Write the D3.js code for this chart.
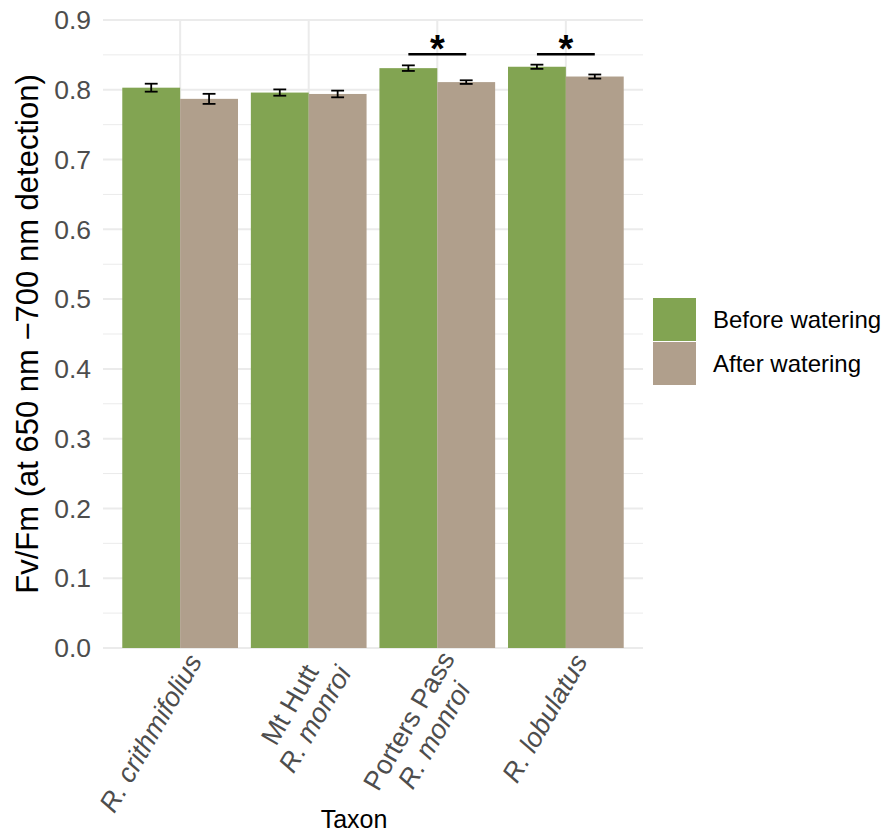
<!DOCTYPE html>
<html>
<head>
<meta charset="utf-8">
<script src="https://cdn.jsdelivr.net/npm/d3@7"></script>
<style>
  html, body { margin: 0; padding: 0; background: #ffffff; }
  svg { display: block; font-family: "Liberation Sans", Arial, Helvetica, sans-serif; }
</style>
</head>
<body>
<svg id="chart" width="885" height="834"></svg>
<script>
// Taxa, with label lines (italic flags for species names)
const taxa = ["R. crithmifolius", "Mt Hutt R. monroi", "Porters Pass R. monroi", "R. lobulatus"];
const taxonLabels = [
  [{ text: "R. crithmifolius", italic: true }],
  [{ text: "Mt Hutt", italic: false }, { text: "R. monroi", italic: true }],
  [{ text: "Porters Pass", italic: false }, { text: "R. monroi", italic: true }],
  [{ text: "R. lobulatus", italic: true }]
];

// Treatments
const treatments = ["Before watering", "After watering"];
const treatmentColors = ["#82a452", "#b09f8c"];

// Mean Fv/Fm and standard errors per taxon
const beforeMean = [0.803, 0.796, 0.831, 0.833];
const afterMean  = [0.787, 0.794, 0.811, 0.819];
const beforeSE   = [0.0057, 0.0045, 0.0040, 0.0030];
const afterSE    = [0.0072, 0.0048, 0.0026, 0.0029];

// Significance markers (bracket height in Fv/Fm units)
const sigTaxa   = ["Porters Pass R. monroi", "R. lobulatus"];
const sigLevel  = [0.851, 0.851];
const sigLabel  = ["*", "*"];

// Axis ticks
const yMajor = [0, 0.1, 0.2, 0.3, 0.4, 0.5, 0.6, 0.7, 0.8, 0.9];
const yMinor = [0.05, 0.15, 0.25, 0.35, 0.45, 0.55, 0.65, 0.75, 0.85];

const svg = d3.select("#chart");
const panel = { left: 103, right: 643, top: 20, bottom: 648 };

const x = d3.scalePoint().domain(taxa).range([panel.left, panel.right]).padding(0.6);
const step = x.step();
const xSub = d3.scaleBand().domain(treatments)
  .range([-0.45 * step, 0.45 * step]).paddingInner(0).paddingOuter(0);
const y = d3.scaleLinear().domain([0, 0.9]).range([panel.bottom, panel.top]);
const color = d3.scaleOrdinal().domain(treatments).range(treatmentColors);

// Grid
const grid = svg.append("g");
grid.selectAll("line.minor").data(yMinor).join("line")
  .attr("x1", panel.left).attr("x2", panel.right)
  .attr("y1", d => y(d)).attr("y2", d => y(d))
  .attr("stroke", "#ebebeb").attr("stroke-width", 1);
grid.selectAll("line.major").data(yMajor).join("line")
  .attr("x1", panel.left).attr("x2", panel.right)
  .attr("y1", d => y(d)).attr("y2", d => y(d))
  .attr("stroke", "#ebebeb").attr("stroke-width", 2);
grid.selectAll("line.vmajor").data(taxa).join("line")
  .attr("x1", d => x(d)).attr("x2", d => x(d))
  .attr("y1", panel.top).attr("y2", panel.bottom)
  .attr("stroke", "#ebebeb").attr("stroke-width", 2);

// Bars and error bars
const rows = [];
taxa.forEach((t, i) => {
  rows.push({ taxon: t, treatment: treatments[0], mean: beforeMean[i], se: beforeSE[i] });
  rows.push({ taxon: t, treatment: treatments[1], mean: afterMean[i], se: afterSE[i] });
});

svg.append("g").selectAll("rect").data(rows).join("rect")
  .attr("x", d => x(d.taxon) + xSub(d.treatment))
  .attr("width", xSub.bandwidth())
  .attr("y", d => y(d.mean))
  .attr("height", d => y(0) - y(d.mean))
  .attr("fill", d => color(d.treatment));

const capHalf = 0.05 * step;
const eb = svg.append("g").attr("stroke", "#000").attr("stroke-width", 1.8).attr("fill", "none");
rows.forEach(d => {
  const cx = x(d.taxon) + xSub(d.treatment) + xSub.bandwidth() / 2;
  const y0 = y(d.mean - d.se), y1 = y(d.mean + d.se);
  eb.append("line").attr("x1", cx).attr("x2", cx).attr("y1", y0).attr("y2", y1);
  eb.append("line").attr("x1", cx - capHalf).attr("x2", cx + capHalf).attr("y1", y0).attr("y2", y0);
  eb.append("line").attr("x1", cx - capHalf).attr("x2", cx + capHalf).attr("y1", y1).attr("y2", y1);
});

// Significance brackets
sigTaxa.forEach((t, i) => {
  const xa = x(t) + xSub(treatments[0]) + xSub.bandwidth() / 2;
  const xb = x(t) + xSub(treatments[1]) + xSub.bandwidth() / 2;
  svg.append("line").attr("x1", xa).attr("x2", xb)
    .attr("y1", y(sigLevel[i])).attr("y2", y(sigLevel[i]))
    .attr("stroke", "#000").attr("stroke-width", 2.4);
  svg.append("text").attr("x", x(t)).attr("y", y(sigLevel[i]) + 8)
    .attr("text-anchor", "middle").attr("font-size", 38).attr("font-weight", "bold")
    .attr("fill", "#000").text(sigLabel[i]);
});

// Y axis tick labels
svg.append("g").selectAll("text").data(yMajor).join("text")
  .attr("x", 91).attr("y", d => y(d)).attr("dy", "0.35em")
  .attr("text-anchor", "end").attr("font-size", 26.5).attr("fill", "#4d4d4d")
  .text(d => d3.format(".1f")(d));

// X axis tick labels, rotated 60 degrees; stacked lines are centred on each
// other and the whole block is right-aligned at its tick
const labelSize = 27, lineGap = 29, firstBaseline = 26, blockShift = 0.17;
const xl = svg.append("g");
taxa.forEach((t, i) => {
  const g = xl.append("g").attr("transform", `translate(${x(t)},${panel.bottom}) rotate(-60)`);
  const n = taxonLabels[i].length;
  const texts = taxonLabels[i].map((ln, j) =>
    g.append("text")
      .attr("y", firstBaseline + j * lineGap - blockShift * (n - 1) * lineGap)
      .attr("text-anchor", "middle").attr("font-size", labelSize).attr("fill", "#4d4d4d")
      .attr("font-style", ln.italic ? "italic" : "normal").text(ln.text));
  const blockWidth = d3.max(texts, s => s.node().getComputedTextLength());
  texts.forEach(s => s.attr("x", -blockWidth / 2));
});

// Axis titles
svg.append("text").attr("x", 354).attr("y", 828).attr("text-anchor", "middle")
  .attr("font-size", 25).attr("fill", "#000").text("Taxon");
svg.append("text").attr("transform", `translate(38,${(panel.top + panel.bottom) / 2}) rotate(-90)`)
  .attr("text-anchor", "middle").attr("font-size", 31).attr("fill", "#000")
  .text("Fv/Fm (at 650 nm \u2212700 nm detection)");

// Legend
const lg = svg.append("g").attr("transform", "translate(653,298)");
treatments.forEach((t, i) => {
  lg.append("rect").attr("x", 0).attr("y", i * 44).attr("width", 43).attr("height", 43)
    .attr("fill", color(t));
  lg.append("text").attr("x", 60).attr("y", i * 44 + 21.5).attr("dy", "0.35em")
    .attr("font-size", 24).attr("fill", "#000").text(t);
});
</script>
</body>
</html>
